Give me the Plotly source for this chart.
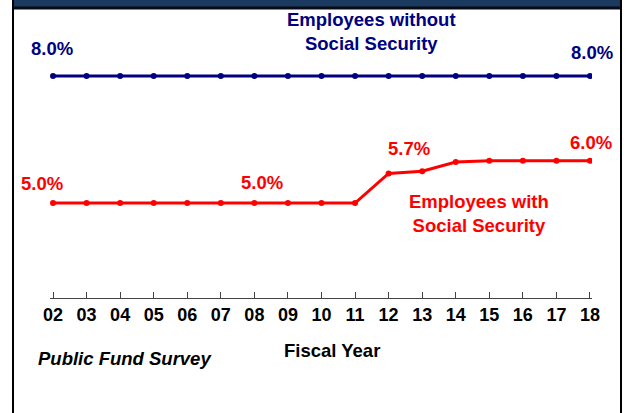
import plotly.graph_objects as go

# Fiscal years 2002-2018 (two-digit tick labels)
years = list(range(2, 19))
year_labels = [f"<b>{y:02d}</b>" for y in years]

# Employee contribution rates, %
without_ss = [8.0] * 17
with_ss = [5.0, 5.0, 5.0, 5.0, 5.0, 5.0, 5.0, 5.0, 5.0, 5.0,
           5.7, 5.75, 5.97, 6.0, 6.0, 6.0, 6.0]

NAVY = "#000080"
RED = "#ff0000"
FONT = "Liberation Sans, Arial, sans-serif"
FS = 18.5

W, H = 628, 413
L, R, T, B = 50, 36, 20, 115
PW, PH = W - L - R, H - T - B


def px(x):
    return (x - L) / PW


def py(y):
    return (H - B - y) / PH


fig = go.Figure()
fig.add_trace(go.Scatter(
    x=years, y=without_ss, mode="lines+markers",
    line=dict(color=NAVY, width=3), marker=dict(color=NAVY, size=6),
    hoverinfo="skip"))
fig.add_trace(go.Scatter(
    x=years, y=with_ss, mode="lines+markers",
    line=dict(color=RED, width=3), marker=dict(color=RED, size=6),
    hoverinfo="skip"))

ann = []


def value_label(x, y, text, color, xs, ys):
    ann.append(dict(x=x, y=y, xref="x", yref="y", text=f"<b>{text}</b>",
                    showarrow=False, xshift=xs, yshift=ys,
                    xanchor="center", yanchor="middle",
                    font=dict(family=FONT, size=FS, color=color)))


def paper_label(x, y, text, color):
    ann.append(dict(x=px(x), y=py(y), xref="paper", yref="paper",
                    text=text, showarrow=False, align="center",
                    xanchor="center", yanchor="middle",
                    font=dict(family=FONT, size=FS, color=color)))


value_label(2, without_ss[0], "8.0%", NAVY, -1, 28)
value_label(18, without_ss[-1], "8.0%", NAVY, 2, 24)
value_label(2, with_ss[0], "5.0%", RED, -11, 20)
value_label(8, with_ss[6], "5.0%", RED, 8, 21)
value_label(12, with_ss[10], "5.7%", RED, 20, 25)
value_label(18, with_ss[-1], "6.0%", RED, 1, 18)

paper_label(372, 32, "<b>Employees without<br>Social Security</b>", NAVY)
paper_label(479, 213, "<b>Employees with<br>Social Security</b>", RED)
paper_label(332, 350, "<b>Fiscal Year</b>", "black")
paper_label(125, 358, "<b><i>Public Fund Survey</i></b>", "black")

shapes = [
    # header band
    dict(type="rect", xref="paper", yref="paper",
         x0=px(13), x1=px(621), y0=py(0), y1=py(7),
         fillcolor="#1b3a60", line=dict(width=0), layer="below"),
    dict(type="line", xref="paper", yref="paper",
         x0=px(13), x1=px(621), y0=py(8), y1=py(8),
         line=dict(color="#0a0a14", width=3)),
    # frame sides
    dict(type="line", xref="paper", yref="paper",
         x0=px(13), x1=px(13), y0=py(0), y1=py(413),
         line=dict(color="black", width=2)),
    dict(type="line", xref="paper", yref="paper",
         x0=px(621), x1=px(621), y0=py(0), y1=py(413),
         line=dict(color="black", width=2)),
]

fig.update_layout(
    width=W, height=H,
    margin=dict(l=L, r=R, t=T, b=B),
    paper_bgcolor="white", plot_bgcolor="white",
    showlegend=False,
    annotations=ann, shapes=shapes,
    xaxis=dict(range=[1.91, 18.06], tickvals=years, ticktext=year_labels,
               showgrid=False, zeroline=False, showline=True,
               linecolor="#444", linewidth=1,
               ticks="inside", ticklen=6, tickcolor="#444", tickwidth=1,
               tickfont=dict(family=FONT, size=18, color="black"),
               ticklabelstandoff=0),
    yaxis=dict(range=[2.756, 2.756 + PH / 42.33], visible=False,
               showgrid=False, zeroline=False),
)

fig.write_html("out.html")
